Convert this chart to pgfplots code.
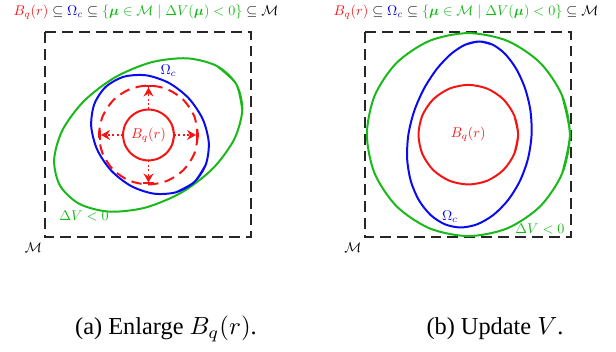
\documentclass[border=0pt]{standalone}
\usepackage{amsmath}
\usepackage{graphicx}
\usepackage{pgfplots}
\pgfplotsset{compat=1.18}
\usetikzlibrary{arrows.meta}
\usepackage{fontspec}
\newfontfamily\capfont{Liberation Serif}
\definecolor{myred}{RGB}{245,20,20}
\definecolor{myblue}{RGB}{10,10,240}
\definecolor{mygreen}{RGB}{25,185,25}
\newcommand\sm[1]{\scalebox{0.57}{#1}}
\newcommand\ttl{$\textcolor{myred}{B_q(r)}\subseteq\textcolor{myblue}{\Omega_c}\subseteq{\color{mygreen}\{\boldsymbol{\mu}\in\mathcal{M}\mid\Delta V(\boldsymbol{\mu})<0\}}\subseteq\mathcal{M}$}
\begin{document}
\begin{tikzpicture}[every node/.style={inner sep=0pt, outer sep=0pt}]
\begin{axis}[scale only axis, width=248pt, height=141.7pt,
  xmin=0, xmax=616, ymin=0, ymax=352, y dir=reverse, hide axis, clip=false]
\addplot[draw=none, forget plot] coordinates {(0,0) (616,352)};
% boxes
\addplot[black!85, line width=0.8pt, dash pattern=on 4.4pt off 2.4pt] coordinates {(45,32) (251,32) (251,237) (45,237) (45,32)};
\addplot[black!85, line width=0.8pt, dash pattern=on 4.4pt off 2.4pt] coordinates {(365,32) (571,32) (571,237) (365,237) (365,32)};
% left green ellipse
\addplot[mygreen, line width=0.8pt, smooth] coordinates {(216.85,65.98)
(236.27,84.15) (242.29,110.06) (233.98,139.76) (212.62,168.75) (181.45,192.59) (145.22,207.67) (109.44,211.68) (79.55,204.02)
(60.13,185.85) (54.11,159.94) (62.42,130.24) (83.78,101.25) (114.95,77.41) (151.18,62.33) (186.96,58.32) (216.85,65.98) (236.27,84.15) (242.29,110.06)};
% left blue ellipse
\addplot[myblue, line width=0.8pt, smooth] coordinates {(205.79,164.59)
(194.33,182.04) (176.13,192.25) (153.94,193.68) (131.16,186.09) (111.24,170.65) (97.22,149.71) (91.24,126.44) (94.21,104.41)
(105.67,86.96) (123.87,76.75) (146.06,75.32) (168.84,82.91) (188.76,98.35) (202.78,119.29) (208.76,142.56) (205.79,164.59) (194.33,182.04) (176.13,192.25)};
% left red solid circle
\addplot[myred, line width=0.8pt, smooth] coordinates {(172.06,125.24)
(174,135) (172.06,144.76) (166.53,153.03) (158.26,158.56) (148.5,160.5) (138.74,158.56) (130.47,153.03) (124.94,144.76)
(123,135) (124.94,125.24) (130.47,116.97) (138.74,111.44) (148.5,109.5) (158.26,111.44) (166.53,116.97) (172.06,125.24) (174,135) (172.06,144.76)};
% left red dashed circle
\addplot[myred, line width=0.8pt, smooth, dash pattern=on 4.2pt off 2.6pt] coordinates {
(198,135) (194.23,153.94) (183.5,170) (167.44,180.73) (148.5,184.5) (129.56,180.73) (113.5,170) (102.77,153.94)
(99,135) (102.77,116.06) (113.5,100) (129.56,89.27) (148.5,85.5) (167.44,89.27) (183.5,100) (194.23,116.06) (198,135)};
% arrows
\addplot[myred, line width=0.8pt, densely dotted, -{Stealth[length=3.6pt,width=4pt] Bar[width=4.2pt]}] coordinates {(148.5,109.5) (148.5,85.5)};
\addplot[myred, line width=0.8pt, densely dotted, -{Stealth[length=3.6pt,width=4pt] Bar[width=4.2pt]}] coordinates {(148.5,160.5) (148.5,184.5)};
\addplot[myred, line width=0.8pt, densely dotted, -{Stealth[length=3.6pt,width=4pt] Bar[width=4.2pt]}] coordinates {(123,135) (99,135)};
\addplot[myred, line width=0.8pt, densely dotted, -{Stealth[length=3.6pt,width=4pt] Bar[width=4.2pt]}] coordinates {(174,135) (198,135)};
% right green circle
\addplot[mygreen, line width=0.8pt, smooth] coordinates {(562.18,95.76)
(569.9,134.6) (562.18,173.44) (540.17,206.37) (507.24,228.38) (468.4,236.1) (429.56,228.38) (396.63,206.37) (374.62,173.44)
(366.9,134.6) (374.62,95.76) (396.63,62.83) (429.56,40.82) (468.4,33.1) (507.24,40.82) (540.17,62.83) (562.18,95.76) (569.9,134.6) (562.18,173.44)};
% right blue egg
\addplot[myblue, line width=0.8pt, smooth] coordinates {(465.31,44.67)
(479.3,41.5) (492.65,44.67) (505.1,53.96) (516.15,68.74) (524.93,88) (530.4,110.43) (531.6,134.5) (528.04,158.57)
(519.9,181) (507.92,200.26) (493.27,215.04) (477.15,224.33) (460.7,227.5) (444.89,224.33) (430.63,215.04) (418.92,200.26)
(410.8,181) (407.14,158.57) (408.4,134.5) (414.42,110.43) (424.37,88) (437.01,68.74) (451,53.96) (465.31,44.67)
(479.3,41.5) (492.65,44.67)};
% right red circle
\addplot[myred, line width=0.8pt, smooth] coordinates {(514.31,115.64)
(518.1,134.7) (514.31,153.76) (503.51,169.91) (487.36,180.71) (468.3,184.5) (449.24,180.71) (433.09,169.91) (422.29,153.76)
(418.5,134.7) (422.29,115.64) (433.09,99.49) (449.24,88.69) (468.3,84.9) (487.36,88.69) (503.51,99.49) (514.31,115.64) (518.1,134.7) (514.31,153.76)};
% labels
\node at (axis cs:146,12) {\sm{\ttl}};
\node at (axis cs:466,12) {\sm{\ttl}};
\node[text=myred] at (axis cs:148.5,135) {\sm{$B_q(r)$}};
\node[text=myred] at (axis cs:468.3,134.5) {\sm{$B_q(r)$}};
\node[text=myblue] at (axis cs:168.5,71) {\sm{$\Omega_c$}};
\node[text=myblue] at (axis cs:450,216.5) {\sm{$\Omega_c$}};
\node[text=mygreen] at (axis cs:84,216) {\sm{$\Delta V<0$}};
\node[text=mygreen] at (axis cs:540,229) {\sm{$\Delta V<0$}};
\node at (axis cs:33.5,248) {\sm{$\mathcal{M}$}};
\node at (axis cs:353,248) {\sm{$\mathcal{M}$}};
\node[font=\capfont\fontsize{9.8}{12}\selectfont, anchor=base] at (axis cs:166,335) {(a) Enlarge $B_q(r)$.};
\node[font=\capfont\fontsize{9.8}{12}\selectfont, anchor=base] at (axis cs:495,335) {(b) Update $V$.};
\end{axis}
\end{tikzpicture}
\end{document}
